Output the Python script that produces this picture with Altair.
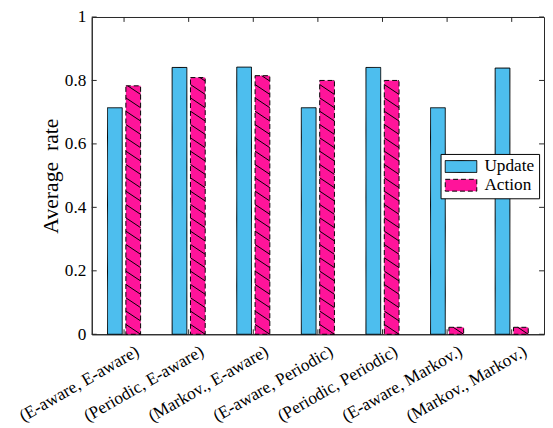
import json
import altair as alt
import pandas as pd

categories = ["(E-aware, E-aware)", "(Periodic, E-aware)", "(Markov., E-aware)",
              "(E-aware, Periodic)", "(Periodic, Periodic)", "(E-aware, Markov.)",
              "(Markov., Markov.)"]
update_rate = [0.714, 0.841, 0.842, 0.714, 0.841, 0.714, 0.839]
action_rate = [0.783, 0.809, 0.815, 0.800, 0.800, 0.022, 0.022]
series = ["Update", "Action"]
y_ticks = [0, 0.2, 0.4, 0.6, 0.8, 1.0]

W, H = 459, 322
FONT = "Liberation Serif"
FS = 17.5
AX = "#262626"
BLUE = "#4DBEEE"
PINK = "#FF149A"

idx = list(range(1, len(categories) + 1))

# bar table (extents in axis units around each category index)
GAP, BW = 0.028, 0.228
rows = []
for i, u, a in zip(idx, update_rate, action_rate):
    rows.append({"x0": i - GAP - BW, "x1": i - GAP, "value": u, "series": "Update"})
    rows.append({"x0": i + GAP, "x1": i + GAP + BW, "value": a, "series": "Action"})
bars = pd.DataFrame(rows)

# hatch segments for the Action bars
P, D = 0.042, 0.031
hrows = []
for i, a in zip(idx, action_rate):
    left, right = i + GAP, i + GAP + BW
    k = -1
    while k * P < a:
        y_hi = k * P + D
        t0 = max(0.0, (y_hi - a) / D)
        t1 = min(1.0, y_hi / D)
        if t0 < t1:
            hrows.append({
                "x0": left + t0 * (right - left), "x1": left + t1 * (right - left),
                "value": y_hi - D * t0, "y1": y_hi - D * t1,
            })
        k += 1
hatch = pd.DataFrame(hrows)

xs = alt.Scale(domain=[0.5, len(categories) + 0.5], nice=False, zero=False)
ys = alt.Scale(domain=[0, 1], nice=False)
xaxis = alt.Axis(values=idx, labelExpr=f"{json.dumps(categories)}[datum.value - 1]",
                 labelAngle=330, labelAlign="right", labelBaseline="top",
                 labelPadding=8, labelOffset=9, ticks=False, grid=False, title=None,
                 labelOverlap=False, labelBound=False, labelFont=FONT, labelFontSize=FS)
yaxis = alt.Axis(values=y_ticks, format="~g", ticks=False, grid=False,
                 labelPadding=6, title="Average \u00a0rate", titlePadding=2,
                 labelFont=FONT, labelFontSize=FS, titleFont=FONT, titleFontSize=22)

def X(f):
    return alt.X(f, type="quantitative", scale=xs, axis=xaxis)

def Y(f):
    return alt.Y(f, type="quantitative", scale=ys, axis=yaxis)

legend = alt.Legend(orient="none", legendX=354, legendY=139, title=None,
                    strokeColor="black", fillColor="white", padding=4,
                    labelFont=FONT, labelFontSize=FS, labelColor="black",
                    symbolType="M-2,-0.75L2,-0.75L2,0.75L-2,0.75Z",
                    symbolSize=256, symbolOffset=8,
                    symbolStrokeWidth=1, symbolOpacity=1, rowPadding=0,
                    labelOffset=15)

bar_layer = alt.Chart(bars).mark_bar(stroke="black", strokeWidth=1, opacity=1).encode(
    x=X("x0"), x2="x1", y=Y("value"), y2=alt.datum(0),
    color=alt.Color("series:N", scale=alt.Scale(domain=series, range=[BLUE, PINK]),
                    legend=legend),
    strokeDash=alt.StrokeDash("series:N",
                              scale=alt.Scale(domain=series, range=[[1, 0], [5, 3]]),
                              legend=legend),
)

hatch_layer = alt.Chart(hatch).mark_rule(color="black", strokeWidth=1).encode(
    x=X("x0"), x2="x1", y=Y("value"), y2="y1")

ytick_df = pd.DataFrame({"value": y_ticks})
xtick_df = pd.DataFrame({"x0": idx})
yt_left = alt.Chart(ytick_df).mark_rule(color=AX).encode(
    y=Y("value"), x=alt.value(0), x2=alt.value(5))
yt_right = alt.Chart(ytick_df).mark_rule(color=AX).encode(
    y=Y("value"), x=alt.value(W - 5), x2=alt.value(W))
xt_top = alt.Chart(xtick_df).mark_rule(color=AX).encode(
    x=X("x0"), y=alt.value(0), y2=alt.value(5))
xt_bottom = alt.Chart(xtick_df).mark_rule(color=AX).encode(
    x=X("x0"), y=alt.value(H - 5), y2=alt.value(H))

chart = alt.layer(bar_layer, hatch_layer, yt_left, yt_right, xt_top, xt_bottom).properties(
    width=W, height=H,
    autosize=alt.AutoSizeParams(type="none"),
    padding={"left": 85, "top": 6, "right": 1, "bottom": 92},
).configure(font=FONT).configure_view(stroke=AX, strokeWidth=1).configure_axis(
    labelColor="black", domainColor=AX,
    titleFontWeight="normal", titleColor="black"
)

chart.save("out.html", embed_options={"renderer": "svg", "actions": False})
